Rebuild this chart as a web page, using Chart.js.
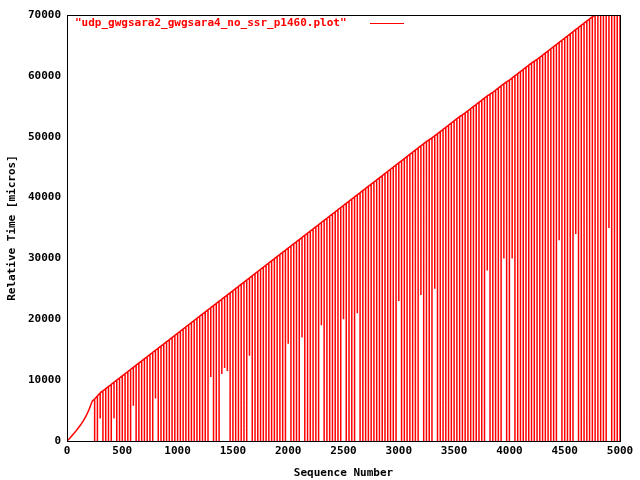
<!DOCTYPE html>
<html>
<head>
<meta charset="utf-8">
<script src="https://cdn.jsdelivr.net/npm/chart.js@4"></script>
<style>
  html, body { margin: 0; padding: 0; background: #fff; }
  #wrap { width: 640px; height: 480px; }
</style>
</head>
<body>
<div id="wrap"><canvas id="plot"></canvas></div>
<script>
// early slow-start ramp (sequence number, relative time)
const rampSeq  = [0, 25, 50, 75, 100, 125, 150, 175, 200, 215, 230];
const rampTime = [0, 450, 1000, 1500, 2100, 2700, 3400, 4200, 5200, 5900, 6600];

// after the ramp: at each sequence number the trace reaches "tops" then falls back to "bottoms"
const seqNums = [250, 300, 350, 400, 450, 500, 550, 600, 650, 700, 750, 800, 850, 900, 950,
  1000, 1050, 1100, 1150, 1200, 1250, 1300, 1350, 1400, 1450, 1500, 1550, 1600, 1650, 1700,
  1750, 1800, 1850, 1900, 1950, 2000, 2050, 2100, 2150, 2200, 2250, 2300, 2350, 2400, 2450,
  2500, 2550, 2600, 2650, 2700, 2750, 2800, 2850, 2900, 2950, 3000, 3050, 3100, 3150, 3200,
  3250, 3300, 3350, 3400, 3450, 3500, 3550, 3600, 3650, 3700, 3750, 3800, 3850, 3900, 3950,
  4000, 4050, 4100, 4150, 4200, 4250, 4300, 4350, 4400, 4450, 4500, 4550, 4600, 4650, 4700,
  4750, 4800, 4850, 4900, 4950, 5000];
const tops = [6900, 7900, 8600, 9300, 10000, 10700, 11400, 12100, 12800, 13500, 14200, 14900, 15600, 16300, 17000,
  17700, 18400, 19100, 19800, 20500, 21200, 21900, 22600, 23300, 24000, 24700, 25400, 26100, 26800, 27500,
  28200, 28900, 29600, 30300, 31000, 31700, 32400, 33100, 33800, 34500, 35200, 35900, 36600, 37300, 38000,
  38700, 39400, 40100, 40800, 41500, 42200, 42900, 43600, 44300, 45000, 45700, 46400, 47100, 47800, 48500,
  49200, 49800, 50500, 51200, 51900, 52600, 53300, 53900, 54600, 55300, 56000, 56700, 57300, 58000, 58700,
  59300, 60000, 60700, 61400, 62100, 62700, 63400, 64100, 64800, 65500, 66200, 66900, 67600, 68300, 69000,
  69700, 70000, 70000, 70000, 70000, 70000];
const bottoms = [0, 3700, 0, 0, 0, 0, 0, 5800, 0, 0, 0, 7000, 0, 0, 0,
  0, 0, 0, 0, 0, 0, 10500, 0, 11000, 11500, 0, 0, 0, 14000, 0,
  0, 0, 0, 0, 0, 16000, 0, 0, 0, 0, 0, 19000, 0, 0, 0,
  20000, 0, 0, 0, 0, 0, 0, 0, 0, 0, 23000, 0, 0, 0, 24000,
  0, 0, 0, 0, 0, 0, 0, 0, 0, 0, 0, 28000, 0, 0, 30000,
  0, 0, 0, 0, 0, 0, 0, 0, 0, 33000, 0, 0, 34000, 0, 0,
  0, 0, 0, 35000, 0, 0];

// the drops that fall between the ones above
const seqNums2 = [275, 325, 375, 425, 475, 525, 575, 625, 675, 725, 775, 825, 875, 925, 975,
  1025, 1075, 1125, 1175, 1225, 1275, 1325, 1375, 1425, 1475, 1525, 1575, 1625, 1675, 1725,
  1775, 1825, 1875, 1925, 1975, 2025, 2075, 2125, 2175, 2225, 2275, 2325, 2375, 2425, 2475,
  2525, 2575, 2625, 2675, 2725, 2775, 2825, 2875, 2925, 2975, 3025, 3075, 3125, 3175, 3225,
  3275, 3325, 3375, 3425, 3475, 3525, 3575, 3625, 3675, 3725, 3775, 3825, 3875, 3925, 3975,
  4025, 4075, 4125, 4175, 4225, 4275, 4325, 4375, 4425, 4475, 4525, 4575, 4625, 4675, 4725,
  4775, 4825, 4875, 4925, 4975];
const tops2 = [7400, 8250, 8950, 9650, 10350, 11050, 11750, 12450, 13150, 13850, 14550, 15250, 15950, 16650, 17350,
  18050, 18750, 19450, 20150, 20850, 21550, 22250, 22950, 23650, 24350, 25050, 25750, 26450, 27150, 27850,
  28550, 29250, 29950, 30650, 31350, 32050, 32750, 33450, 34150, 34850, 35550, 36250, 36950, 37650, 38350,
  39050, 39750, 40450, 41150, 41850, 42550, 43250, 43950, 44650, 45350, 46050, 46750, 47450, 48150, 48850,
  49500, 50150, 50850, 51550, 52250, 52950, 53600, 54250, 54950, 55650, 56350, 57000, 57650, 58350, 59000,
  59650, 60350, 61050, 61750, 62400, 63050, 63750, 64450, 65150, 65850, 66550, 67250, 67950, 68650, 69350,
  70000, 70000, 70000, 70000, 70000];
const bottoms2 = [0, 0, 0, 3700, 0, 0, 0, 0, 0, 0, 0, 0, 0, 0, 0,
  0, 0, 0, 0, 0, 0, 0, 0, 12000, 0, 0, 0, 0, 0, 0,
  0, 0, 0, 0, 0, 0, 0, 17000, 0, 0, 0, 0, 0, 0, 0,
  0, 0, 21000, 0, 0, 0, 0, 0, 0, 0, 0, 0, 0, 0, 0,
  0, 25000, 0, 0, 0, 0, 0, 0, 0, 0, 0, 0, 0, 0, 0,
  30000, 0, 0, 0, 0, 0, 0, 0, 0, 0, 0, 0, 0, 0, 0,
  0, 0, 0, 0, 0];

const xTicks = [0, 500, 1000, 1500, 2000, 2500, 3000, 3500, 4000, 4500, 5000];
const yTicks = [0, 10000, 20000, 30000, 40000, 50000, 60000, 70000];
const seriesName = '"udp_gwgsara2_gwgsara4_no_ssr_p1460.plot"';

const drops = [];
seqNums.forEach((s, i) => drops.push({ s: s, t: tops[i], b: bottoms[i] }));
seqNums2.forEach((s, i) => drops.push({ s: s, t: tops2[i], b: bottoms2[i] }));
drops.sort((a, b) => a.s - b.s);

const points = rampSeq.map((s, i) => ({ x: s, y: rampTime[i] }));
drops.forEach(d => {
  points.push({ x: d.s, y: d.t });
  points.push({ x: d.s, y: d.b });
  points.push({ x: d.s, y: d.t });
});

const FONT = { family: 'DejaVu Sans Mono', size: 11, weight: 'bold' };

const keyPlugin = {
  id: 'gnuplotKey',
  afterDraw(chart) {
    const c = chart.ctx;
    c.save();
    c.font = 'bold 11px "DejaVu Sans Mono"';
    c.fillStyle = '#ff0000';
    c.textBaseline = 'middle';
    c.textAlign = 'left';
    c.fillText(seriesName, 75, 23);
    c.strokeStyle = '#ff0000';
    c.lineWidth = 1;
    c.beginPath();
    c.moveTo(370, 23.5);
    c.lineTo(404, 23.5);
    c.stroke();
    // plot frame
    const a = chart.chartArea;
    c.strokeStyle = '#000';
    c.strokeRect(a.left + 0.5, a.top + 0.5, a.right - a.left, a.bottom - a.top);
    c.restore();
  }
};

new Chart(document.getElementById('plot'), {
  type: 'scatter',
  data: {
    datasets: [{
      label: seriesName,
      data: points,
      showLine: true,
      borderColor: '#ff0000',
      borderWidth: 1.5,
      pointRadius: 0,
      fill: false
    }]
  },
  options: {
    responsive: true,
    maintainAspectRatio: false,
    animation: false,
    layout: { padding: { top: 15, right: 20, left: 4, bottom: 0 } },
    plugins: { legend: { display: false }, tooltip: { enabled: false } },
    scales: {
      x: {
        type: 'linear', min: 0, max: 5000,
        afterBuildTicks: s => { s.ticks = xTicks.map(v => ({ value: v })); },
        afterFit: s => { s.height = 39; },
        grid: { display: false, drawTicks: false },
        border: { display: false },
        ticks: { color: '#000', font: FONT, maxRotation: 0, padding: 4, callback: v => String(v) },
        title: { display: true, text: 'Sequence Number', color: '#000', font: FONT, padding: 0 }
      },
      y: {
        min: 0, max: 70000,
        afterBuildTicks: s => { s.ticks = yTicks.map(v => ({ value: v })); },
        afterFit: s => { s.width = 63; },
        grid: { display: false, drawTicks: false },
        border: { display: false },
        ticks: { color: '#000', font: FONT, padding: 6, callback: v => String(v) },
        title: { display: true, text: 'Relative Time [micros]', color: '#000', font: FONT, padding: 2 }
      }
    }
  },
  plugins: [keyPlugin]
});
</script>
</body>
</html>
